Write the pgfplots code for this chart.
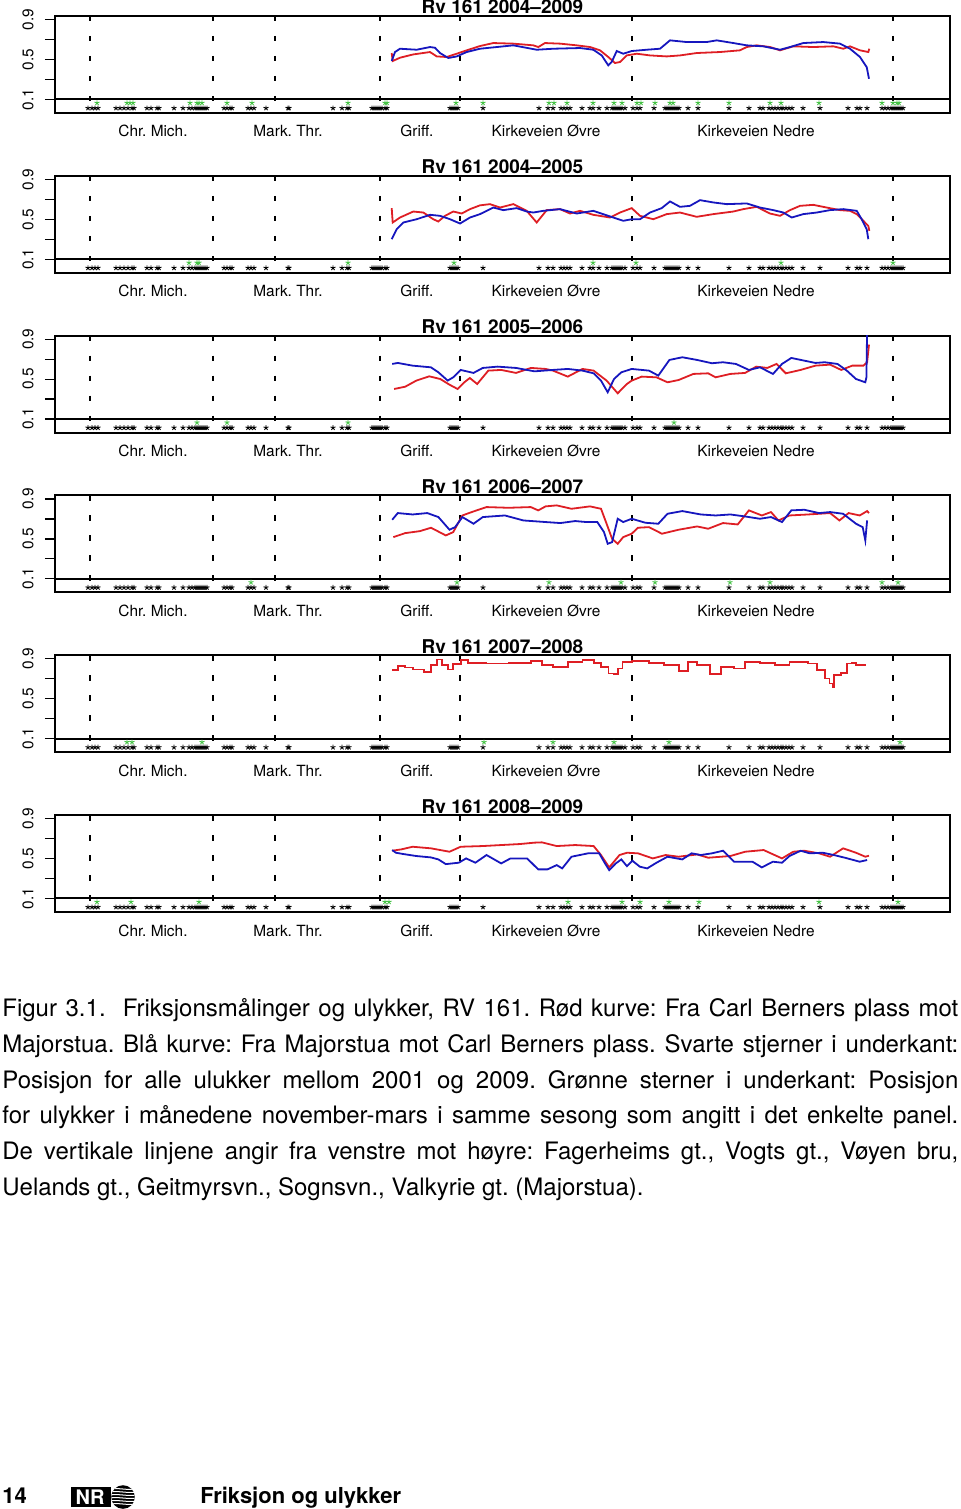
\documentclass[border=0pt]{standalone}
\usepackage{fontspec}
\setmainfont{TeX Gyre Heros}
\usepackage{pgfplots}
\pgfplotsset{compat=1.18}

\definecolor{rcurve}{RGB}{222,30,36}
\definecolor{bcurve}{RGB}{22,22,190}
\definecolor{gstar}{RGB}{70,195,70}

\pgfplotsset{
  panel/.style={
    scale only axis, width=447.5pt, height=48.5pt, anchor=north west,
    xmin=55, xmax=950, ymin=-0.036, ymax=0.936,
    axis line style={line width=1pt},
    ytick={0.1,0.3,0.5,0.7,0.9}, yticklabels={0.1,,0.5,,0.9},
    ytick pos=left, tick align=outside, major tick length=5pt,
    ytick style={line width=0.6pt, black},
    yticklabel style={rotate=90, anchor=south, font=\fontsize{7.7}{8.5}\selectfont},
    yticklabel shift=2.2pt,
    xtick={153,288,417,546,756},
    xticklabels={Chr. Mich.,Mark. Thr.,Griff.,Kirkeveien Øvre,Kirkeveien Nedre},
    xtick pos=bottom, xtick style={draw=none},
    xticklabel style={anchor=base, font=\fontsize{7.7}{8.5}\selectfont, yshift=-7pt},
    title style={at={(0.5,1)}, anchor=base, yshift=-5pt, inner sep=0pt,
      font=\bfseries\fontsize{9.5}{11}\selectfont},
  },
  redc/.style={color=rcurve, line width=0.9pt, no marks},
  bluec/.style={color=bcurve, line width=0.9pt, no marks},
  blackstar/.style={only marks, mark=star, mark size=1.3pt, black, mark options={line width=0.45pt}},
  greenstar/.style={only marks, mark=star, mark size=1.3pt, gstar, mark options={line width=0.45pt}},
}

% road sections, zero line, all accidents 2001-2009 (same in every panel)
\newcommand{\panelbase}{%
  \pgfplotsinvokeforeach{90,213,275,380,460,632,893}{%
    \addplot[black, line width=1pt, dash pattern=on 2.75pt off 7.25pt] coordinates {(##1,0.936) (##1,-0.036)};}
  \addplot[black, line width=1pt] coordinates {(55,0.1) (950,0.1)};
  \addplot[blackstar] table[row sep=\\, y expr=0.013] {x\\88\\92\\95\\98\\116\\120\\124\\128\\132\\134\\147\\151\\157\\159\\174\\183\\189\\192\\195\\197\\199\\201\\203\\205\\207\\224\\227\\230\\232\\248\\251\\254\\266\\288\\289\\333\\342\\347\\349\\372\\374\\376\\378\\380\\382\\385\\387\\450\\452\\454\\456\\458\\483\\539\\548\\553\\561\\564\\567\\570\\582\\590\\593\\599\\607\\612\\614\\616\\618\\620\\622\\625\\633\\637\\640\\654\\665\\667\\669\\671\\673\\675\\677\\679\\688\\698\\729\\749\\760\\763\\769\\772\\775\\778\\781\\783\\786\\789\\792\\803\\820\\848\\857\\860\\867\\882\\885\\888\\891\\893\\895\\897\\899\\901\\903\\};
}

\begin{document}
\frenchspacing
\begin{tikzpicture}
\useasboundingbox (0,0) rectangle (480pt,-754.5pt);

% ---- Rv 161 2004-2009
\begin{axis}[panel, at={(27.5pt,-8pt)}, title={Rv 161 2004--2009}]
\panelbase
\addplot[greenstar] table[row sep=\\, y expr=0.065] {x\\97\\127\\130\\133\\190\\197\\199\\202\\227\\252\\348\\385\\387\\456\\483\\549\\554\\567\\593\\614\\622\\637\\641\\655\\670\\673\\698\\729\\770\\781\\819\\882\\893\\897\\899\\};
\addplot[redc] coordinates {(391.7,0.565) (392.7,0.485) (400,0.518) (413.3,0.551) (430,0.575) (436.7,0.531) (446.7,0.525) (456.7,0.558) (466.7,0.592) (480,0.635) (493.3,0.665) (513.3,0.659) (533.3,0.642) (538.3,0.625) (545,0.665) (560,0.659) (576.7,0.642) (590,0.625) (600,0.592) (608.3,0.525) (615,0.465) (620,0.475) (626.7,0.541) (636.7,0.558) (650,0.541) (666.7,0.531) (680,0.541) (696.7,0.565) (720,0.575) (740,0.592) (746.7,0.625) (756.7,0.642) (770,0.625) (780,0.592) (793.3,0.632) (813.3,0.625) (833.3,0.632) (843.3,0.608) (850,0.632) (860,0.592) (868.3,0.575) (869.3,0.608)};
\addplot[bluec] coordinates {(391.7,0.485) (395,0.575) (400,0.608) (416.7,0.598) (430,0.625) (435,0.618) (440,0.565) (448.3,0.515) (456.7,0.531) (466.7,0.575) (480,0.608) (496.7,0.625) (513.3,0.642) (536.7,0.598) (553.3,0.608) (580,0.615) (593.3,0.598) (601.7,0.541) (608.3,0.441) (611.7,0.475) (616.7,0.585) (623.3,0.558) (631.7,0.585) (646.7,0.598) (660,0.608) (670,0.692) (686.7,0.675) (706.7,0.675) (716.7,0.692) (733.3,0.665) (746.7,0.642) (763.3,0.632) (780,0.598) (790,0.625) (803.3,0.665) (823.3,0.675) (840,0.659) (850,0.608) (860,0.525) (866.7,0.424) (869,0.307)};
\end{axis}

% ---- Rv 161 2004-2005
\begin{axis}[panel, at={(27.5pt,-87.9pt)}, title={Rv 161 2004--2005}]
\panelbase
\addplot[greenstar] table[row sep=\\, y expr=0.065] {x\\189\\197\\199\\348\\454\\593\\636\\781\\893\\};
\addplot[redc] coordinates {(391.7,0.612) (392.7,0.468) (400,0.518) (413.3,0.578) (423.3,0.568) (433.3,0.501) (438.3,0.478) (445,0.535) (453.3,0.578) (461.7,0.558) (470,0.602) (480,0.64) (490,0.652) (500,0.618) (513.3,0.652) (526.7,0.585) (536.7,0.468) (546.7,0.592) (560,0.602) (570,0.558) (580,0.585) (593.3,0.545) (610,0.518) (620,0.568) (631.7,0.612) (640,0.535) (653.3,0.501) (666.7,0.552) (680,0.568) (696.7,0.525) (713.3,0.552) (733.3,0.578) (743.3,0.602) (756.7,0.625) (770,0.558) (780,0.535) (790,0.592) (800,0.635) (813.3,0.645) (826.7,0.618) (840,0.592) (850,0.585) (856.7,0.552) (863.3,0.485) (868.3,0.434) (869.3,0.384)};
\addplot[bluec] coordinates {(391.7,0.301) (396.7,0.401) (403.3,0.468) (416.7,0.501) (430,0.545) (440,0.535) (450,0.501) (460,0.458) (470,0.518) (480,0.552) (493.3,0.618) (503.3,0.592) (516.7,0.612) (526.7,0.578) (533.3,0.568) (543.3,0.585) (560,0.602) (576.7,0.558) (593.3,0.585) (613.3,0.518) (623.3,0.485) (631.7,0.501) (640,0.501) (650,0.568) (661.7,0.612) (670,0.679) (680,0.625) (690,0.635) (700,0.692) (713.3,0.669) (726.7,0.652) (746.7,0.659) (760,0.618) (773.3,0.592) (783.3,0.568) (791.7,0.518) (803.3,0.552) (816.7,0.568) (830,0.592) (843.3,0.602) (856.7,0.585) (861.7,0.501) (866.7,0.401) (868.3,0.301)};
\end{axis}

% ---- Rv 161 2005-2006
\begin{axis}[panel, at={(27.5pt,-167.8pt)}, title={Rv 161 2005--2006}]
\panelbase
\addplot[greenstar] table[row sep=\\, y expr=0.065] {x\\197\\227\\348\\674\\};
\addplot[redc] coordinates {(394.1,0.401) (405.2,0.424) (416.3,0.485) (429.2,0.528) (440.3,0.501) (449.5,0.444) (457.6,0.401) (464.3,0.468) (469.8,0.511) (477.2,0.451) (488.3,0.585) (501.2,0.592) (516,0.562) (530.8,0.612) (545.6,0.602) (553,0.585) (567.8,0.525) (582.5,0.602) (593.6,0.585) (606.6,0.485) (617.7,0.358) (626.9,0.451) (631.7,0.485) (641.7,0.525) (656.5,0.518) (667.5,0.468) (678.6,0.491) (693.4,0.552) (708.2,0.558) (715.6,0.518) (730.4,0.552) (745.1,0.562) (756.2,0.625) (767.3,0.612) (776.5,0.652) (785.8,0.558) (800.6,0.592) (815.4,0.635) (830.1,0.645) (841.2,0.592) (852.3,0.635) (863.4,0.635) (867.1,0.669) (869,0.846)};
\addplot[bluec] coordinates {(392.2,0.652) (397.8,0.662) (412.6,0.635) (431,0.618) (438.4,0.568) (447.7,0.485) (453.2,0.518) (460.6,0.592) (473.5,0.562) (482.8,0.612) (497.6,0.625) (516,0.612) (534.5,0.578) (553,0.592) (567.8,0.602) (582.5,0.585) (593.6,0.558) (601,0.485) (607.7,0.368) (614,0.501) (621.3,0.568) (631.7,0.602) (649,0.585) (658.3,0.535) (669.4,0.692) (682.3,0.719) (697.1,0.692) (711.9,0.659) (723,0.669) (735.9,0.652) (748.9,0.592) (760,0.618) (773,0.552) (782,0.652) (791.3,0.712) (804.3,0.685) (815.4,0.662) (824.6,0.669) (837.5,0.652) (846.8,0.585) (856,0.501) (865.3,0.468) (866.4,0.518) (867.1,0.99)};
\end{axis}

% ---- Rv 161 2006-2007
\begin{axis}[panel, at={(27.5pt,-247.7pt)}, title={Rv 161 2006--2007}]
\panelbase
\addplot[greenstar] table[row sep=\\, y expr=0.065] {x\\251\\457\\549\\621\\655\\730\\770\\882\\898\\};
\addplot[redc] coordinates {(393.3,0.518) (405.2,0.558) (419.9,0.578) (431,0.612) (445.8,0.535) (453.2,0.568) (462.4,0.735) (471.7,0.769) (486.4,0.819) (508.6,0.812) (530.8,0.819) (538.2,0.786) (545.6,0.826) (556.7,0.836) (571.5,0.802) (590,0.826) (601,0.802) (606.6,0.652) (612.1,0.501) (617.7,0.451) (623.2,0.518) (631.7,0.552) (638,0.612) (649,0.618) (661.9,0.552) (678.6,0.592) (697.1,0.625) (708.2,0.602) (723,0.659) (737.7,0.645) (748.9,0.786) (761.8,0.735) (771,0.769) (778.4,0.685) (789.5,0.735) (808,0.745) (830.1,0.759) (839.4,0.685) (848.6,0.759) (859.7,0.735) (867.1,0.779) (869,0.759)};
\addplot[bluec] coordinates {(392.2,0.692) (397.8,0.759) (412.6,0.745) (427.3,0.759) (438.4,0.719) (449.5,0.592) (455.1,0.618) (462.4,0.719) (473.5,0.652) (482.8,0.719) (504.9,0.735) (523.4,0.685) (545.6,0.669) (560.4,0.659) (575.2,0.679) (586.3,0.669) (597.3,0.669) (604,0.568) (607.7,0.451) (612.1,0.468) (617.7,0.702) (623.2,0.669) (631.7,0.702) (645.4,0.662) (658.3,0.652) (667.5,0.752) (682.3,0.779) (700.8,0.745) (715.6,0.735) (730.4,0.745) (745.1,0.725) (759.9,0.702) (771,0.719) (782,0.669) (791.3,0.786) (804.3,0.792) (819,0.759) (830.1,0.769) (843.1,0.752) (856,0.652) (862.7,0.618) (865.3,0.485) (867.1,0.685)};
\end{axis}

% ---- Rv 161 2007-2008
\begin{axis}[panel, at={(27.5pt,-327.6pt)}, title={Rv 161 2007--2008}]
\panelbase
\addplot[greenstar] table[row sep=\\, y expr=0.065] {x\\127\\132\\202\\484\\553\\614\\669\\900\\};
\addplot[redc, const plot] coordinates {(392.2,0.786) (397.8,0.826) (405.2,0.812) (412.6,0.792) (423.6,0.769) (431,0.836) (436.6,0.893) (442.1,0.836) (447.7,0.792) (453.2,0.846) (460.6,0.886) (468,0.859) (486.5,0.853) (508.6,0.859) (530.8,0.879) (541.9,0.836) (553,0.819) (567.8,0.869) (582.5,0.886) (593.6,0.859) (601,0.819) (608.4,0.752) (614,0.745) (617.7,0.802) (622.5,0.869) (631.7,0.876) (649,0.859) (663.8,0.836) (678.6,0.779) (687.9,0.869) (697.1,0.836) (710,0.745) (721.1,0.819) (734.1,0.802) (745.1,0.869) (759.9,0.859) (774.7,0.836) (789.5,0.869) (808,0.853) (817.2,0.786) (824.6,0.702) (829.4,0.652) (833.1,0.612) (833.8,0.735) (841.2,0.759) (846.8,0.853) (852.3,0.859) (856,0.836) (865.3,0.826)};
\end{axis}

% ---- Rv 161 2008-2009
\begin{axis}[panel, at={(27.5pt,-407.5pt)}, title={Rv 161 2008--2009}]
\panelbase
\addplot[greenstar] table[row sep=\\, y expr=0.065] {x\\97\\131\\199\\385\\389\\568\\622\\640\\669\\699\\819\\898\\};
\addplot[redc] coordinates {(392.2,0.578) (401.5,0.592) (412.6,0.618) (431,0.602) (449.5,0.568) (460.6,0.618) (482.8,0.625) (501.2,0.635) (519.7,0.645) (534.5,0.659) (541.9,0.662) (556.7,0.625) (575.2,0.635) (593.6,0.625) (601,0.535) (609.2,0.411) (619.5,0.535) (627,0.558) (638,0.552) (652.8,0.501) (665.7,0.535) (678.6,0.518) (697.1,0.541) (708.2,0.508) (730.4,0.525) (745.1,0.568) (763.6,0.585) (782,0.501) (793.2,0.568) (804.3,0.578) (819,0.552) (830.1,0.518) (843.1,0.602) (856,0.558) (865.3,0.518) (869,0.528)};
\addplot[bluec] coordinates {(392.2,0.585) (395.9,0.558) (403.3,0.545) (416.3,0.525) (431,0.511) (438.4,0.491) (445.8,0.444) (458.8,0.458) (466.1,0.501) (475.4,0.458) (486.5,0.535) (501.2,0.451) (510.5,0.501) (527.1,0.501) (538.2,0.391) (547.4,0.391) (556.7,0.434) (562.2,0.401) (571.5,0.518) (588.1,0.552) (599.2,0.552) (605,0.451) (609.2,0.384) (615.8,0.451) (621.3,0.491) (626.9,0.424) (632.4,0.478) (639.8,0.418) (647.2,0.401) (656.5,0.458) (667.5,0.518) (682.3,0.491) (691.6,0.552) (700.8,0.535) (711.9,0.552) (723,0.578) (734.1,0.468) (752.5,0.468) (761.8,0.411) (772.9,0.468) (782,0.458) (789.5,0.525) (800.6,0.578) (809.8,0.552) (822.7,0.558) (833.8,0.535) (844.9,0.508) (859.7,0.468) (867.1,0.485)};
\end{axis}

% ---- caption and page footer (pixel-like units)
\begin{scope}[x=0.5pt, y=-0.5pt]
\node[anchor=north west, inner sep=0pt, align=left, font=\fontsize{12}{17.9}\selectfont\frenchspacing] at (2,991) {%
\strut\makebox[478pt][s]{Figur 3.1.\ \ Friksjonsmålinger og ulykker, RV 161. Rød kurve: Fra Carl Berners plass mot}\\
\makebox[478pt][s]{Majorstua. Blå kurve: Fra Majorstua mot Carl Berners plass. Svarte stjerner i underkant:}\\
\makebox[478pt][s]{Posisjon for alle ulukker mellom 2001 og 2009. Grønne sterner i underkant: Posisjon}\\
\makebox[478pt][s]{for ulykker i månedene november-mars i samme sesong som angitt i det enkelte panel.}\\
\makebox[478pt][s]{De vertikale linjene angir fra venstre mot høyre: Fagerheims gt., Vogts gt., Vøyen bru,}\\
Uelands gt., Geitmyrsvn., Sognsvn., Valkyrie gt. (Majorstua).};
\node[anchor=base west, inner sep=0pt, font=\bfseries\fontsize{11}{13}\selectfont] at (2,1503) {14};
\fill[black] (71,1487) rectangle (111,1507);
\node[anchor=base, inner sep=0pt, text=white, font=\bfseries\fontsize{10}{12}\selectfont] at (90,1504) {NR};
\fill[black] (123,1497) circle (5.9pt);
\begin{scope}
\clip (123,1497) circle (5.9pt);
\foreach \yy in {1489,1492,1495,1498,1501,1504}
  \draw[white, line width=0.5pt] (110,\yy) .. controls (118,\yy-1.5) and (128,\yy+1.5) .. (136,\yy);
\end{scope}
\node[anchor=base west, inner sep=0pt, font=\bfseries\fontsize{11}{13}\selectfont] at (200,1503) {Friksjon og ulykker};
\end{scope}
\end{tikzpicture}
\end{document}
